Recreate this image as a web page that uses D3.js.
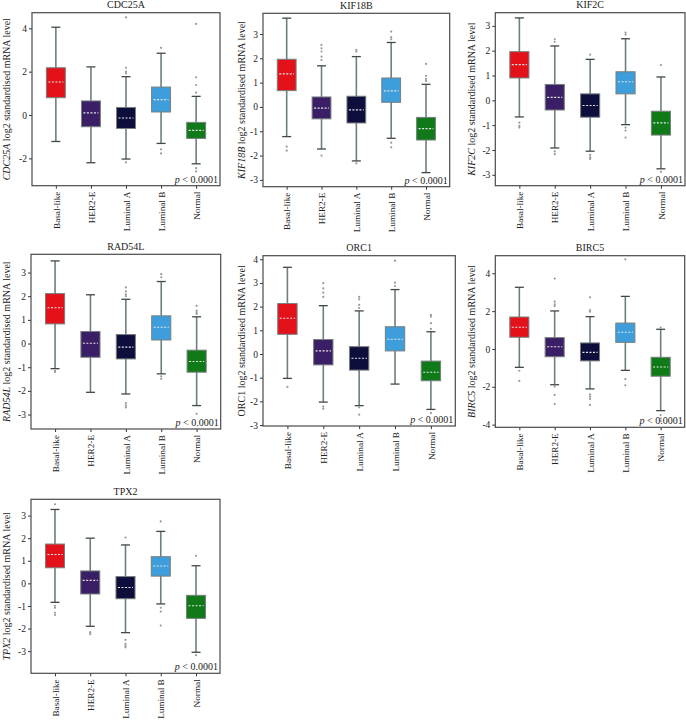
<!DOCTYPE html>
<html><head><meta charset="utf-8">
<script src="https://cdn.jsdelivr.net/npm/d3@7"></script>
<style>
body{margin:0;background:#fff;}
svg{display:block;font-family:"Liberation Serif","Times New Roman",serif;}
</style></head>
<body>
<svg id="c" width="686" height="721"></svg>
<script>
// ---------- DATA ----------
const categories = ["Basal-like","HER2-E","Luminal A","Luminal B","Normal"];
const genes = ["CDC25A","KIF18B","KIF2C","RAD54L","ORC1","BIRC5","TPX2"];
const italicGene = [true,true,true,true,false,true,true];
// stats per category: [lowerWhisker, Q1, median, Q3, upperWhisker]
const cdc25aStats = [[-1.22,0.80,1.52,2.18,4.05],[-2.20,-0.54,0.10,0.65,2.22],[-2.03,-0.62,-0.14,0.35,1.77],[-1.31,0.14,0.71,1.29,2.85],[-2.25,-1.08,-0.71,-0.34,0.86]];
const cdc25aOutliers = [[],[],[4.5,2.18,2.0,1.92,-2.18],[3.1,-1.58,-1.77],[4.2,1.74,1.38,1.03,-2.45,-2.6]];
const kif18bStats = [[-1.22,0.67,1.36,1.96,3.65],[-1.73,-0.49,-0.05,0.41,1.69],[-2.22,-0.66,-0.12,0.44,2.07],[-1.29,0.19,0.66,1.19,2.65],[-2.70,-1.36,-0.89,-0.43,0.93]];
const kif18bOutliers = [[-1.63,-1.8],[2.55,2.41,2.28,2.07,1.93,-2.0],[2.35,2.28,-2.32],[3.1,2.87,2.78,-1.47,-1.66],[1.77,1.28,1.15,1.07]];
const kif2cStats = [[-0.67,0.90,1.44,1.96,3.32],[-1.92,-0.39,0.12,0.64,2.19],[-2.05,-0.68,-0.21,0.26,1.65],[-0.98,0.26,0.75,1.15,2.48],[-2.76,-1.40,-0.91,-0.44,0.94]];
const kif2cOutliers = [[-0.9,-1.03,-1.1],[2.46,2.36,-2.06,-2.17],[1.84,-2.2,-2.3,-2.36],[2.73,2.65,-1.1,-1.22,-1.5],[1.42,-2.88]];
const rad54lStats = [[-1.06,0.83,1.51,2.11,3.49],[-2.06,-0.58,0.01,0.51,2.06],[-2.13,-0.65,-0.15,0.38,1.87],[-1.28,0.15,0.69,1.17,2.62],[-2.62,-1.21,-0.76,-0.28,1.13]];
const rad54lOutliers = [[-1.15,-1.2],[],[2.37,2.2,2.08,2.0,-2.52,-2.62,-2.7],[2.93,2.8,-1.39,-1.49],[1.59,1.39,1.32,1.25,-2.97]];
const orc1Stats = [[-1.03,0.83,1.51,2.13,3.66],[-2.03,-0.46,0.13,0.61,2.04],[-2.18,-0.68,-0.18,0.31,1.82],[-1.27,0.13,0.62,1.15,2.72],[-2.34,-1.13,-0.77,-0.30,0.94]];
const orc1Outliers = [[-1.39],[2.99,2.77,2.59,2.41,-2.22,-2.31],[2.41,2.31,2.07,1.94,-2.25,-2.56],[3.94,3.01,2.87],[1.65,1.58,1.3,1.06,-2.49]];
const birc5Stats = [[-0.97,0.62,1.15,1.69,3.26],[-1.89,-0.41,0.12,0.60,2.01],[-2.11,-0.63,-0.18,0.32,1.71],[-1.13,0.35,0.88,1.37,2.78],[-3.26,-1.44,-0.95,-0.44,1.04]];
const birc5Outliers = [[-1.15,-1.69],[3.72,2.5,2.36,2.27,-1.99,-2.43,-2.91],[2.73,2.06,1.97,-2.4,-2.52,-2.64,-2.96],[4.74,-1.59,-1.92],[1.13,-3.49,-3.67,-3.81]];
const tpx2Stats = [[-0.84,0.69,1.28,1.74,3.27],[-1.90,-0.47,0.13,0.55,2.0],[-2.18,-0.68,-0.18,0.30,1.70],[-0.91,0.32,0.77,1.18,2.30],[-3.05,-1.55,-0.99,-0.53,0.78]];
const tpx2Outliers = [[3.5,-0.99,-1.08,-1.3,-1.4],[-2.16,-2.25],[2.03,-2.5,-2.68,-2.77,-2.83],[2.74,-1.08,-1.25,-1.87],[1.22,-3.18]];
const yTicks = [[-2,0,2,4],[-3,-2,-1,0,1,2,3],[-3,-2,-1,0,1,2,3],[-3,-2,-1,0,1,2,3],[-3,-2,-1,0,1,2,3,4],[-4,-2,0,2,4],[-3,-2,-1,0,1,2,3]];
const yDomains = [[-3.26,4.72],[-3.28,3.85],[-3.44,3.53],[-3.61,3.77],[-3.04,4.15],[-4.14,4.93],[-3.98,3.72]];
const pText = "< 0.0001";
const allStats = [cdc25aStats,kif18bStats,kif2cStats,rad54lStats,orc1Stats,birc5Stats,tpx2Stats];
const allOutliers = [cdc25aOutliers,kif18bOutliers,kif2cOutliers,rad54lOutliers,orc1Outliers,birc5Outliers,tpx2Outliers];

// ---------- LAYOUT / STYLE ----------
const colors = ["#e3121a","#3a1f66","#0e0e3c","#3e9ddb","#107a18"];
const frames = [
  {l:32,t:12.7,r:220,b:185.7,lab:-26},
  {l:263,t:13.3,r:449.7,b:186.7,lab:-22},
  {l:495.3,t:12.7,r:685,b:185.7,lab:-24},
  {l:31,t:254.3,r:220.7,b:429,lab:-25},
  {l:263,t:255.7,r:455.3,b:426,lab:-22},
  {l:495.3,t:255.7,r:684.7,b:427.3,lab:-24},
  {l:31,t:499.3,r:220,b:673.3,lab:-25}
];
const svg = d3.select("#c");
const whiskCol = "#6f7e7e";
const FONT = "'Liberation Serif','Times New Roman',serif";

genes.forEach((g,i)=>{
  const f = frames[i];
  const gEl = svg.append("g");
  const x = d3.scalePoint().domain(categories).range([f.l,f.r]).padding(0.68);
  const y = d3.scaleLinear().domain(yDomains[i]).range([f.b,f.t]);
  const bw = x.step()*0.54;
  const cap = 9;

  // title
  gEl.append("text").attr("x",(f.l+f.r)/2).attr("y",f.t-4.5)
    .attr("text-anchor","middle").attr("font-size",10).attr("fill","#222").text(g);

  // y axis
  const ya = gEl.append("g").attr("transform",`translate(${f.l},0)`)
    .call(d3.axisLeft(y).tickValues(yTicks[i]).tickSize(3).tickPadding(2).tickFormat(d=>String(d)));
  ya.attr("font-family",FONT);
  ya.select(".domain").remove();
  ya.selectAll("line").attr("stroke","#333");
  ya.selectAll("text").attr("font-size",9.5).attr("fill","#222");

  // x axis
  const xa = gEl.append("g").attr("transform",`translate(0,${f.b})`)
    .call(d3.axisBottom(x).tickSize(3).tickPadding(0));
  xa.attr("font-family",FONT);
  xa.select(".domain").remove();
  xa.selectAll("line").attr("stroke","#333");
  xa.selectAll("text").attr("font-size",9.2).attr("fill","#222")
    .attr("text-anchor","end").attr("transform","rotate(-90)")
    .attr("x",-6).attr("y",0).attr("dy","0.35em");

  // y label
  const lab = gEl.append("text").attr("transform",`translate(${f.l+f.lab},${(f.t+f.b)/2}) rotate(-90)`)
    .attr("text-anchor","middle").attr("dy","0.35em").attr("font-size",10).attr("fill","#222");
  lab.append("tspan").attr("font-style",italicGene[i]?"italic":"normal").text(g);
  lab.append("tspan").text(" log2 standardised mRNA level");

  // boxes
  allStats[i].forEach((s,k)=>{
    const cx = x(categories[k]);
    const bg = gEl.append("g");
    bg.append("line").attr("x1",cx).attr("x2",cx).attr("y1",y(s[0])).attr("y2",y(s[4]))
      .attr("stroke",whiskCol).attr("stroke-width",1.6);
    [s[0],s[4]].forEach(v=>bg.append("line").attr("x1",cx-cap/2).attr("x2",cx+cap/2)
      .attr("y1",y(v)).attr("y2",y(v)).attr("stroke","#3f4848").attr("stroke-width",1.3));
    bg.append("rect").attr("x",cx-bw/2).attr("width",bw).attr("y",y(s[3])).attr("height",y(s[1])-y(s[3]))
      .attr("fill",colors[k]).attr("stroke","#76807f").attr("stroke-width",1);
    bg.append("line").attr("x1",cx-bw/2+2).attr("x2",cx+bw/2-2).attr("y1",y(s[2])).attr("y2",y(s[2]))
      .attr("stroke","#e8e8e8").attr("stroke-width",1.1).attr("stroke-dasharray","2,1.5");
    allOutliers[i][k].forEach(v=>bg.append("circle").attr("cx",cx).attr("cy",y(v)).attr("r",1.1).attr("fill","#9a9a9a"));
  });

  // frame
  gEl.append("rect").attr("x",f.l).attr("y",f.t).attr("width",f.r-f.l).attr("height",f.b-f.t)
    .attr("fill","none").attr("stroke","#4a4a4a").attr("stroke-width",1.2);

  // p value
  const pt = gEl.append("text").attr("x",f.r-2).attr("y",f.b-3).attr("text-anchor","end")
    .attr("font-size",10).attr("fill","#222");
  pt.append("tspan").attr("font-style","italic").text("p ");
  pt.append("tspan").text(pText);
});
</script>
</body></html>
